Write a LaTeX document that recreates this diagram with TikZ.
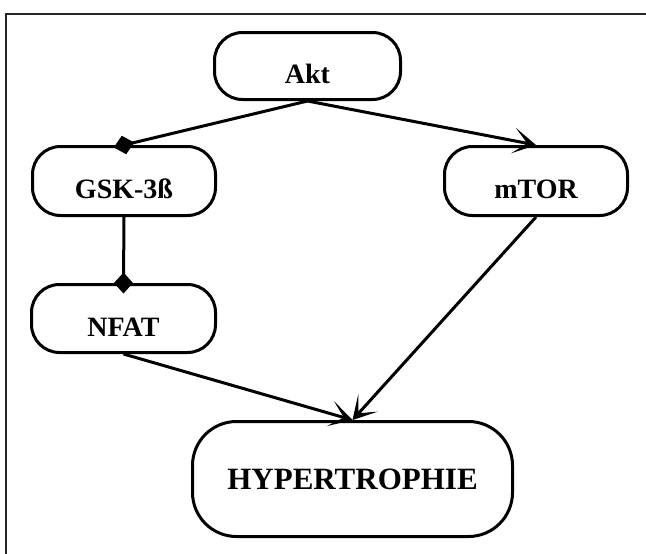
\documentclass[tikz,border=0pt]{standalone}
\usepackage{fontspec}
\setmainfont{Liberation Serif}
\usetikzlibrary{arrows.meta}
\tikzset{
  box/.style={draw, line width=3pt, rounded corners=28pt, inner sep=0pt,
    font=\bfseries\fontsize{28}{32}\selectfont, text height=35pt, text depth=0pt},
  bigbox/.style={draw, line width=3pt, rounded corners=44pt, inner sep=0pt,
    font=\bfseries\fontsize{31}{36}\selectfont},
  conn/.style={line width=3pt},
  act/.style={conn, -{Stealth[length=23pt,width=26pt,inset=14pt]}},
  inh/.style={conn, -{Diamond[length=21pt,width=19pt]}, shorten >=-10.5pt},
  frameline/.style={line width=2pt, draw=black!85}
}
\begin{document}
\begin{tikzpicture}[x=1pt,y=-1pt]
\useasboundingbox (0,0) rectangle (646,554);
\draw[frameline] (6,554) -- (6,14) -- (646,14);
\node[box, minimum width=186pt, minimum height=67pt] (akt) at (307.5,66) {Akt};
\node[box, minimum width=183pt, minimum height=69pt] (gsk) at (124,181) {GSK-3ß};
\node[box, minimum width=183pt, minimum height=69pt] (mtor) at (536,181) {mTOR};
\node[box, minimum width=184pt, minimum height=68pt] (nfat) at (123.5,318.5) {NFAT};
\node[bigbox, minimum width=320pt, minimum height=115pt] (hyp) at (352.5,479) {HYPERTROPHIE};
\draw[inh] (akt.south) -- (gsk.north);
\draw[act] (akt.south) -- (mtor.north);
\draw[inh] (gsk.south) -- (nfat.north);
\draw[act] (nfat.south) -- (hyp.north);
\draw[act] (mtor.south) -- (hyp.north);
\end{tikzpicture}
\end{document}
